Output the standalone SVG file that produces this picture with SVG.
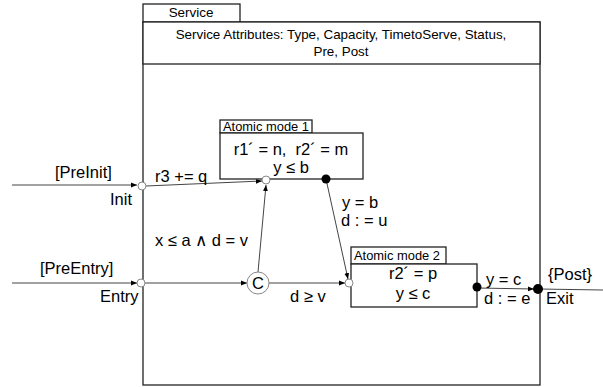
<svg xmlns="http://www.w3.org/2000/svg" width="603" height="387" viewBox="0 0 603 387">
<defs>
<marker id="arr" viewBox="0 0 10 10" refX="10" refY="5" markerWidth="6" markerHeight="6" orient="auto" markerUnits="userSpaceOnUse"><path d="M0,1 L10,5 L0,9 Z" fill="#000"/></marker>
<style>
.box{fill:#fff;stroke:#222;stroke-width:1.3}
.t{font-family:"Liberation Sans",Arial,sans-serif;fill:#000}
.s12{font-size:13.4px}
.s13{font-size:12.9px}
.s14{font-size:16.5px}
.ln{stroke:#444;stroke-width:1;fill:none}
.oc{fill:#fff;stroke:#888;stroke-width:1}
.fc{fill:#000}
</style>
</defs>
<rect width="603" height="387" fill="#fff"/>
<g id="service">
<rect class="box" x="143" y="22" width="397" height="363"/>
<rect class="box" x="143" y="4" width="97" height="18"/>
<text class="t s12" x="191" y="17" text-anchor="middle">Service</text>
<rect class="box" x="143" y="22" width="397" height="42"/>
<text class="t s12" x="341" y="39" text-anchor="middle">Service Attributes: Type, Capacity, TimetoServe, Status,</text>
<text class="t s12" x="341" y="56" text-anchor="middle">Pre, Post</text>
</g>
<g id="connectors">
<line class="ln" x1="12" y1="185" x2="137" y2="185" marker-end="url(#arr)"/>
<line class="ln" x1="146" y1="186" x2="262" y2="181" marker-end="url(#arr)"/>
<line class="ln" x1="12" y1="283" x2="137" y2="283" marker-end="url(#arr)"/>
<line class="ln" x1="145" y1="283" x2="247" y2="283" marker-end="url(#arr)"/>
<line class="ln" x1="258" y1="272" x2="266" y2="185" marker-end="url(#arr)"/>
<line class="ln" x1="269" y1="283" x2="345" y2="283" marker-end="url(#arr)"/>
<line class="ln" x1="326" y1="179" x2="348" y2="279" marker-end="url(#arr)"/>
<line class="ln" x1="477" y1="288" x2="534" y2="289" marker-end="url(#arr)"/>
<line class="ln" x1="539" y1="289" x2="603" y2="290"/>
</g>
<g id="mode1">
<rect class="box" x="220" y="120" width="92" height="13"/>
<text class="t s13" x="223" y="131">Atomic mode 1</text>
<rect class="box" x="220" y="133" width="143" height="46"/>
<text class="t s14" x="291" y="155" text-anchor="middle" xml:space="preserve">r1´ = n,  r2´ = m</text>
<text class="t s14" x="291" y="173" text-anchor="middle">y ≤ b</text>
<circle class="oc" cx="266" cy="180" r="4"/>
<circle class="fc" cx="326" cy="179" r="4.5"/>
</g>
<g id="mode2">
<rect class="box" x="351" y="247" width="95" height="17"/>
<text class="t s13" x="354" y="260">Atomic mode 2</text>
<rect class="box" x="351" y="264" width="126" height="43"/>
<text class="t s14" x="413" y="279" text-anchor="middle">r2´ = p</text>
<text class="t s14" x="413" y="299" text-anchor="middle">y ≤ c</text>
<circle class="oc" cx="349" cy="283" r="4"/>
<circle class="fc" cx="477" cy="287" r="4.5"/>
</g>
<g id="init">
<circle class="oc" cx="142" cy="186" r="4"/>
<text class="t s14" x="55" y="178">[PreInit]</text>
<text class="t s14" x="110" y="205">Init</text>
<text class="t s14" x="155" y="182">r3 += q</text>
</g>
<g id="entry">
<circle class="oc" cx="141" cy="283" r="4"/>
<text class="t s14" x="40" y="274">[PreEntry]</text>
<text class="t s14" x="100" y="302">Entry</text>
</g>
<g id="choice">
<circle class="oc" cx="258" cy="283" r="11"/>
<text class="t s14" x="258" y="289" text-anchor="middle">C</text>
</g>
<g id="exit">
<circle class="fc" cx="538" cy="289" r="5"/>
<text class="t s14" x="548" y="280">{Post}</text>
<text class="t s14" x="546" y="304">Exit</text>
</g>
<g id="labels">
<text class="t s14" x="155" y="246">x ≤ a ∧ d = v</text>
<text class="t s14" x="290" y="302">d ≥ v</text>
<text class="t s14" x="342" y="208">y = b</text>
<text class="t s14" x="341" y="226">d : = u</text>
<text class="t s14" x="486" y="285">y = c</text>
<text class="t s14" x="484" y="304">d : = e</text>
</g>
</svg>
